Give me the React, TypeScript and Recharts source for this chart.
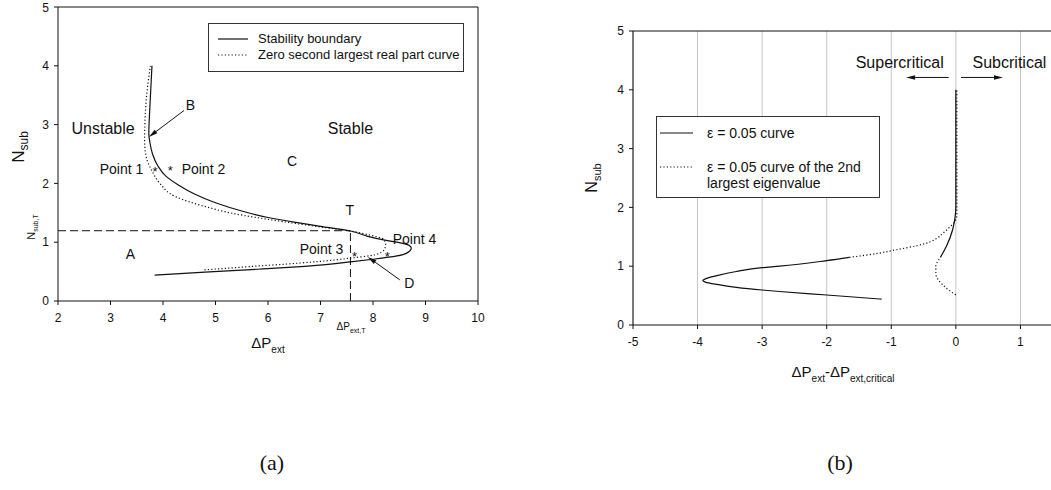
import {
  CartesianGrid,
  Legend,
  ReferenceLine,
  Scatter,
  ScatterChart,
  XAxis,
  YAxis,
} from "recharts";

const FONT = '"Liberation Sans", Arial, Helvetica, sans-serif';
const INK = "#111";
const DOTS = "1.2 2.2";

type Pt = { x: number; y: number };
type Note = Pt & { text: string };

// ---------- panel (a): Nsub vs ΔPext ----------
const xTicksA = [2, 3, 4, 5, 6, 7, 8, 9, 10];
const yTicks = [0, 1, 2, 3, 4, 5];

// ordered from the lower end upwards (Nsub increasing)
const stabilityBoundary: Pt[] = [
  { x: 3.84, y: 0.44 }, { x: 4.8, y: 0.49 }, { x: 5.8, y: 0.54 }, { x: 6.7, y: 0.59 },
  { x: 7.57, y: 0.665 }, { x: 8.0, y: 0.71 }, { x: 8.3, y: 0.745 }, { x: 8.57, y: 0.79 },
  { x: 8.7, y: 0.85 }, { x: 8.73, y: 0.9 }, { x: 8.68, y: 0.95 }, { x: 8.57, y: 0.98 },
  { x: 8.25, y: 1.03 }, { x: 7.9, y: 1.1 }, { x: 7.57, y: 1.19 }, { x: 7.0, y: 1.27 },
  { x: 6.5, y: 1.34 }, { x: 6.0, y: 1.42 }, { x: 5.5, y: 1.53 }, { x: 5.0, y: 1.67 },
  { x: 4.6, y: 1.82 }, { x: 4.3, y: 1.97 }, { x: 4.06, y: 2.12 }, { x: 3.9, y: 2.3 },
  { x: 3.8, y: 2.5 }, { x: 3.75, y: 2.7 }, { x: 3.73, y: 2.85 }, { x: 3.75, y: 3.3 },
  { x: 3.79, y: 4.0 },
];

const zeroSecondCurve: Pt[] = [
  { x: 4.79, y: 0.53 }, { x: 5.65, y: 0.585 }, { x: 6.6, y: 0.645 }, { x: 7.3, y: 0.7 },
  { x: 7.62, y: 0.735 }, { x: 7.94, y: 0.77 }, { x: 8.16, y: 0.83 }, { x: 8.23, y: 0.9 },
  { x: 8.24, y: 0.97 }, { x: 8.2, y: 1.05 }, { x: 7.94, y: 1.12 }, { x: 7.57, y: 1.19 },
  { x: 7.24, y: 1.23 }, { x: 6.29, y: 1.35 }, { x: 5.33, y: 1.49 }, { x: 4.83, y: 1.6 },
  { x: 4.25, y: 1.77 }, { x: 3.94, y: 2.0 }, { x: 3.78, y: 2.23 }, { x: 3.68, y: 2.45 },
  { x: 3.65, y: 2.73 }, { x: 3.68, y: 3.41 }, { x: 3.76, y: 4.0 },
];

const pointT: Pt = { x: 7.57, y: 1.195 };

const starsA: Pt[] = [
  { x: 3.85, y: 2.25 },
  { x: 4.14, y: 2.26 },
  { x: 7.65, y: 0.8 },
  { x: 8.27, y: 0.8 },
];

const regionNotesA: Note[] = [
  { x: 2.86, y: 2.93, text: "Unstable" },
  { x: 7.57, y: 2.94, text: "Stable" },
];

const markNotesA: Note[] = [
  { x: 3.38, y: 0.8, text: "A" },
  { x: 4.52, y: 3.34, text: "B" },
  { x: 6.46, y: 2.38, text: "C" },
  { x: 8.69, y: 0.3, text: "D" },
  { x: 7.56, y: 1.55, text: "T" },
  { x: 3.21, y: 2.25, text: "Point 1" },
  { x: 4.77, y: 2.25, text: "Point 2" },
  { x: 7.02, y: 0.88, text: "Point 3" },
  { x: 8.79, y: 1.05, text: "Point 4" },
];

const arrowsA: [Pt, Pt][] = [
  [{ x: 4.4, y: 3.24 }, { x: 3.73, y: 2.79 }],
  [{ x: 8.51, y: 0.36 }, { x: 7.9, y: 0.75 }],
];

// ---------- panel (b): Nsub vs ΔPext - ΔPext,critical ----------
const xTicksB = [-5, -4, -3, -2, -1, 0, 1];

const epsCurveLower: Pt[] = [
  { x: -1.15, y: 0.44 }, { x: -2.0, y: 0.51 }, { x: -2.73, y: 0.57 }, { x: -3.0, y: 0.595 },
  { x: -3.4, y: 0.64 }, { x: -3.7, y: 0.69 }, { x: -3.88, y: 0.73 }, { x: -3.92, y: 0.755 },
  { x: -3.88, y: 0.785 }, { x: -3.7, y: 0.84 }, { x: -3.4, y: 0.91 }, { x: -3.0, y: 0.975 },
  { x: -2.73, y: 1.0 }, { x: -2.0, y: 1.095 }, { x: -1.65, y: 1.15 },
];

const epsCurveUpper: Pt[] = [
  { x: -0.24, y: 1.15 }, { x: -0.15, y: 1.33 }, { x: -0.05, y: 1.62 }, { x: -0.01, y: 1.85 },
  { x: 0, y: 2.0 }, { x: 0, y: 4.0 },
];

const eps2ndUpper: Pt[] = [
  { x: -1.65, y: 1.15 }, { x: -1.2, y: 1.22 }, { x: -0.92, y: 1.28 }, { x: -0.6, y: 1.35 },
  { x: -0.46, y: 1.39 }, { x: -0.3, y: 1.47 }, { x: -0.2, y: 1.56 }, { x: -0.1, y: 1.66 },
  { x: -0.03, y: 1.74 }, { x: 0.015, y: 1.85 }, { x: 0.015, y: 4.0 },
];

const eps2ndLower: Pt[] = [
  { x: 0, y: 0.51 }, { x: -0.08, y: 0.57 }, { x: -0.2, y: 0.68 }, { x: -0.28, y: 0.78 },
  { x: -0.31, y: 0.87 }, { x: -0.31, y: 1.0 }, { x: -0.27, y: 1.1 }, { x: -0.24, y: 1.15 },
];

const regionNotesB: Note[] = [
  { x: -0.87, y: 4.47, text: "Supercritical" },
  { x: 0.83, y: 4.47, text: "Subcritical" },
];

const arrowsB: [Pt, Pt][] = [
  [{ x: -0.11, y: 4.21 }, { x: -0.77, y: 4.21 }],
  [{ x: 0.08, y: 4.21 }, { x: 0.73, y: 4.21 }],
];

const legendStyles: Record<string, string | undefined> = {
  "Stability boundary": undefined,
  "Zero second largest real part curve": DOTS,
  "ε = 0.05 curve": undefined,
  "ε = 0.05 curve of the 2nd largest eigenvalue": DOTS,
};

// ---------- shapes ----------
const NoMark = () => <g />;

const noteShape = (size: number) => (props: any) => (
  <text
    x={props.cx}
    y={props.cy}
    textAnchor="middle"
    dominantBaseline="central"
    fontSize={size}
    fontFamily={FONT}
    fill={INK}
  >
    {props.payload.text}
  </text>
);

const StarMark = (props: any) => (
  <text x={props.cx} y={props.cy + 7} textAnchor="middle" fontSize={13} fontFamily={FONT} fill={INK}>
    *
  </text>
);

const ArrowShape = (props: any) => {
  const { x1, y1, x2, y2 } = props;
  const ang = Math.atan2(y2 - y1, x2 - x1);
  const len = 9;
  const half = 2.2;
  const bx = x2 - len * Math.cos(ang);
  const by = y2 - len * Math.sin(ang);
  const px = -Math.sin(ang) * half;
  const py = Math.cos(ang) * half;
  return (
    <g>
      <line x1={x1} y1={y1} x2={bx} y2={by} stroke={INK} strokeWidth={1} />
      <polygon points={`${x2},${y2} ${bx + px},${by + py} ${bx - px},${by - py}`} fill={INK} />
    </g>
  );
};

const axisTick = { fill: INK, fontSize: 12, fontFamily: FONT };

const legendBox = (box: { w: number; sample: number; gap: number; pad: string; font: number; rowGap: number }) =>
  (props: any) => (
    <div
      style={{
        width: box.w,
        boxSizing: "border-box",
        border: "1px solid #333",
        background: "#fff",
        padding: box.pad,
        fontFamily: FONT,
        fontSize: box.font,
        color: INK,
        lineHeight: "16px",
      }}
    >
      {(props.payload || [])
        .filter((entry: any) => entry.type !== "none" && entry.value in legendStyles)
        .map((entry: any, i: number) => (
          <div key={i} style={{ display: "flex", alignItems: "flex-start", marginTop: i ? box.rowGap : 0 }}>
            <svg width={box.sample} height={16} style={{ flex: "none" }}>
              <line
                x1={0}
                x2={box.sample}
                y1={8}
                y2={8}
                stroke={INK}
                strokeWidth={1.2}
                strokeDasharray={legendStyles[entry.value]}
              />
            </svg>
            <span style={{ marginLeft: box.gap }}>{entry.value}</span>
          </div>
        ))}
    </div>
  );

function PanelA() {
  return (
    <ScatterChart width={500} height={400} margin={{ top: 7, right: 22, bottom: 69, left: 28 }}>
      <XAxis
        type="number"
        dataKey="x"
        domain={[2, 10]}
        ticks={xTicksA}
        height={30}
        tickSize={4}
        tickMargin={8}
        stroke={INK}
        tick={axisTick}
        allowDataOverflow
      />
      <YAxis
        type="number"
        dataKey="y"
        domain={[0, 5]}
        ticks={yTicks}
        width={30}
        tickSize={4}
        tickMargin={5}
        stroke={INK}
        tick={axisTick}
        allowDataOverflow
      />
      <ReferenceLine y={5} stroke={INK} />
      <ReferenceLine x={10} stroke={INK} />
      <ReferenceLine
        segment={[{ x: 2, y: pointT.y }, pointT]}
        stroke={INK}
        strokeDasharray="8 4"
      />
      <ReferenceLine
        segment={[{ x: pointT.x, y: 0 }, pointT]}
        stroke={INK}
        strokeDasharray="8 4"
      />
      <Scatter
        name="Stability boundary"
        data={stabilityBoundary}
        fill={INK}
        line={{ stroke: INK, strokeWidth: 1.2 }}
        lineJointType="monotoneY"
        shape={NoMark}
        isAnimationActive={false}
      />
      <Scatter
        name="Zero second largest real part curve"
        data={zeroSecondCurve}
        fill={INK}
        line={{ stroke: INK, strokeWidth: 1.2, strokeDasharray: DOTS }}
        lineJointType="monotoneY"
        shape={NoMark}
        isAnimationActive={false}
      />
      <Scatter data={starsA} shape={StarMark} legendType="none" isAnimationActive={false} />
      <Scatter data={regionNotesA} shape={noteShape(16)} legendType="none" isAnimationActive={false} />
      <Scatter data={markNotesA} shape={noteShape(14)} legendType="none" isAnimationActive={false} />
      {arrowsA.map((seg, i) => (
        <ReferenceLine key={i} segment={seg} shape={ArrowShape} />
      ))}
      <Legend
        verticalAlign="middle"
        align="center"
        layout="horizontal"
        wrapperStyle={{ left: 208, top: 23, width: 256 }}
        content={legendBox({ w: 256, sample: 30, gap: 10, pad: "7px 0 8px 9px", font: 13, rowGap: 0 })}
      />
    </ScatterChart>
  );
}

function PanelB() {
  return (
    <ScatterChart width={545} height={400} margin={{ top: 31, right: 20, bottom: 45, left: 43 }}>
      <CartesianGrid horizontal={false} stroke="#c4c4c4" />
      <XAxis
        type="number"
        dataKey="x"
        domain={[-5, 2]}
        ticks={xTicksB}
        height={30}
        tickSize={4}
        tickMargin={8}
        stroke={INK}
        tick={axisTick}
        allowDataOverflow
      />
      <YAxis
        type="number"
        dataKey="y"
        domain={[0, 5]}
        ticks={yTicks}
        width={30}
        tickSize={4}
        tickMargin={5}
        stroke={INK}
        tick={axisTick}
        allowDataOverflow
      />
      <ReferenceLine y={5} stroke={INK} />
      <Scatter
        name="ε = 0.05 curve"
        data={epsCurveLower}
        fill={INK}
        line={{ stroke: INK, strokeWidth: 1.2 }}
        lineJointType="monotoneY"
        shape={NoMark}
        isAnimationActive={false}
      />
      <Scatter
        name="ε = 0.05 curve of the 2nd largest eigenvalue"
        data={eps2ndUpper}
        fill={INK}
        line={{ stroke: INK, strokeWidth: 1.2, strokeDasharray: DOTS }}
        lineJointType="monotoneY"
        shape={NoMark}
        isAnimationActive={false}
      />
      <Scatter
        data={epsCurveUpper}
        fill={INK}
        line={{ stroke: INK, strokeWidth: 1.2 }}
        lineJointType="monotoneY"
        shape={NoMark}
        legendType="none"
        isAnimationActive={false}
      />
      <Scatter
        data={eps2ndLower}
        fill={INK}
        line={{ stroke: INK, strokeWidth: 1.2, strokeDasharray: DOTS }}
        lineJointType="monotoneY"
        shape={NoMark}
        legendType="none"
        isAnimationActive={false}
      />
      <Scatter data={regionNotesB} shape={noteShape(16)} legendType="none" isAnimationActive={false} />
      {arrowsB.map((seg, i) => (
        <ReferenceLine key={i} segment={seg} shape={ArrowShape} />
      ))}
      <Legend
        verticalAlign="middle"
        align="center"
        layout="horizontal"
        wrapperStyle={{ left: 96, top: 116, width: 224 }}
        content={legendBox({ w: 224, sample: 33, gap: 14, pad: "8px 10px 6px 3px", font: 14, rowGap: 18 })}
      />
    </ScatterChart>
  );
}

export default function App() {
  return (
    <div
      style={{
        position: "fixed",
        left: 0,
        top: 0,
        width: 1051,
        height: 490,
        overflow: "hidden",
        background: "#fff",
      }}
    >
      <div style={{ position: "absolute", left: 0, top: 0 }}>
        <PanelA />
      </div>
      <div style={{ position: "absolute", left: 560, top: 0 }}>
        <PanelB />
      </div>
      <svg
        width={1051}
        height={490}
        style={{ position: "absolute", left: 0, top: 0, pointerEvents: "none" }}
        fontFamily={FONT}
        fill={INK}
      >
        {/* axis titles, panel (a) */}
        <text transform="translate(24,147) rotate(-90)" textAnchor="middle" fontSize={17}>
          N<tspan fontSize={12} dy={4}>sub</tspan>
        </text>
        <text transform="translate(35,227) rotate(-90)" textAnchor="middle" fontSize={11}>
          N<tspan fontSize={7} dy={3}>sub,T</tspan>
        </text>
        <text x={268} y={348} textAnchor="middle" fontSize={15}>
          ΔP<tspan fontSize={10} dy={5}>ext</tspan>
        </text>
        <text x={351} y={330} textAnchor="middle" fontSize={10}>
          ΔP<tspan fontSize={7} dy={3}>ext,T</tspan>
        </text>
        {/* axis titles, panel (b) */}
        <text transform="translate(597,178) rotate(-90)" textAnchor="middle" fontSize={16}>
          N<tspan fontSize={11} dy={4}>sub</tspan>
        </text>
        <text x={843} y={377} textAnchor="middle" fontSize={15}>
          ΔP<tspan fontSize={10} dy={5}>ext</tspan>
          <tspan dy={-5}>-ΔP</tspan>
          <tspan fontSize={10} dy={5}>ext,critical</tspan>
        </text>
        {/* panel captions */}
        <text x={272} y={470} textAnchor="middle" fontSize={22} fontFamily='"Liberation Serif", "Times New Roman", serif'>
          (a)
        </text>
        <text x={840} y={470} textAnchor="middle" fontSize={22} fontFamily='"Liberation Serif", "Times New Roman", serif'>
          (b)
        </text>
      </svg>
    </div>
  );
}
